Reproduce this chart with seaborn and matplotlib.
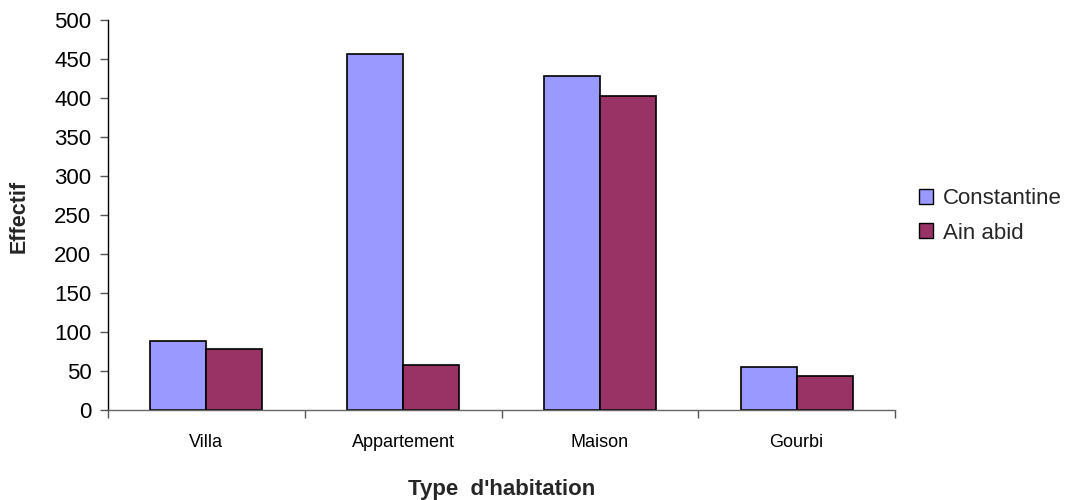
import matplotlib
matplotlib.use("Agg")
import matplotlib.pyplot as plt
from matplotlib.patches import Patch
from matplotlib import font_manager
import seaborn as sns
import pandas as pd

categories = ["Villa", "Appartement", "Maison", "Gourbi"]
constantine = [88, 456, 428, 55]
ain_abid = [78, 58, 403, 44]
series_names = ["Constantine", "Ain abid"]
colors = ["#9999FF", "#993366"]
y_ticks = [0, 50, 100, 150, 200, 250, 300, 350, 400, 450, 500]

df = pd.DataFrame({
    "Type": categories * 2,
    "Effectif": constantine + ain_abid,
    "Ville": [series_names[0]] * len(categories) + [series_names[1]] * len(categories),
})

sns.set_theme(style="white")
plt.rcParams["font.family"] = ["Liberation Sans", "DejaVu Sans"]

installed = {f.name for f in font_manager.fontManager.ttflist}
if "Liberation Sans Narrow" in installed:
    xtick_family, xtick_size = ["Liberation Sans Narrow", "Liberation Sans"], 15.5
else:
    xtick_family, xtick_size = ["Liberation Sans", "DejaVu Sans"], 13

fig = plt.figure(figsize=(10.71, 5.0), dpi=100)
ax = fig.add_axes([108 / 1071, 0.18, 787 / 1071, 0.78])

sns.barplot(data=df, x="Type", y="Effectif", hue="Ville", order=categories,
            hue_order=series_names, palette=colors, saturation=1, width=0.57,
            edgecolor="black", linewidth=1.2, legend=False, ax=ax)

ax.set_xlim(-0.5, 3.5)
ax.set_ylim(0, 500)
ax.set_yticks(y_ticks)
ax.set_yticklabels([str(t) for t in y_ticks], fontsize=16)
ax.set_xticks(range(len(categories)))
ax.set_xticklabels(categories, fontsize=xtick_size, family=xtick_family)
ax.set_xticks([-0.5, 0.5, 1.5, 2.5, 3.5], minor=True)
ax.tick_params(axis="x", which="major", length=0, pad=17, colors="black")
ax.tick_params(axis="x", which="minor", length=6, width=1, color="#555555", direction="out", bottom=True)
ax.tick_params(axis="y", which="major", length=6, width=1, color="#555555", direction="out", pad=6, left=True, labelcolor="black")

for s in ["top", "right"]:
    ax.spines[s].set_visible(False)
ax.spines["left"].set_color("black")
ax.spines["left"].set_linewidth(1)
ax.spines["bottom"].set_color("#666666")
ax.spines["bottom"].set_linewidth(1)

ax.set_xlabel("Type  d'habitation", fontsize=16, fontweight="bold")
ax.xaxis.set_label_coords(0.5, -0.178)
ax.set_ylabel("Effectif", fontsize=15.5, fontweight="bold")
ax.yaxis.set_label_coords(-0.1, 0.496)

handles = [Patch(facecolor=c, edgecolor="black", linewidth=1) for c in colors]
fig.legend(handles, series_names, loc="center left", bbox_to_anchor=(0.858, 0.568),
           frameon=False, fontsize=16, handlelength=0.65, handleheight=0.65,
           handletextpad=0.45, labelspacing=0.6, borderpad=0, borderaxespad=0)

fig.savefig("out.png", dpi=100)
